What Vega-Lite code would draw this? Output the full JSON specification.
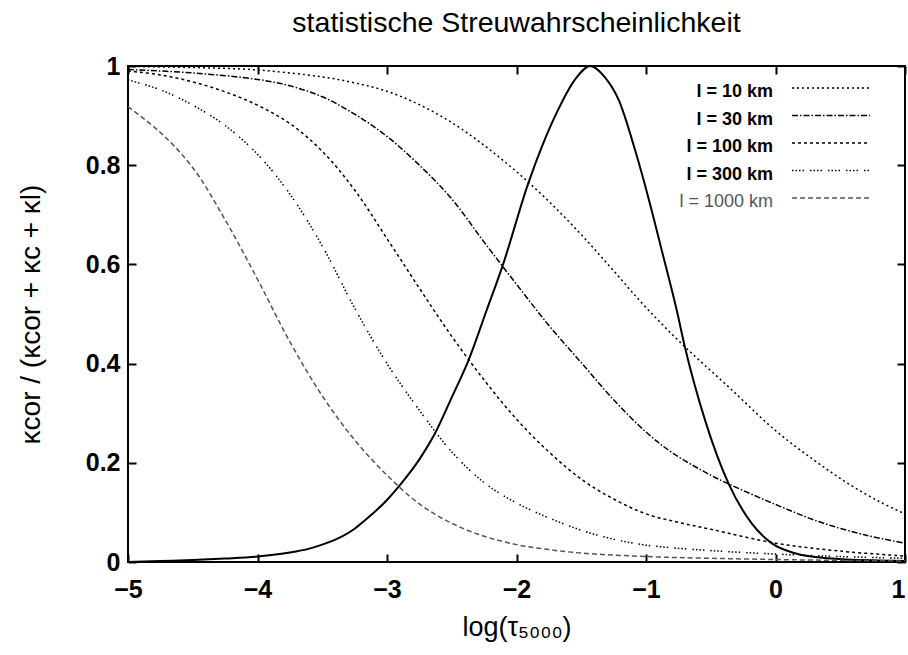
{
  "$schema": "https://vega.github.io/schema/vega-lite/v6.json",
  "width": 777,
  "height": 496,
  "autosize": {"type": "none"},
  "padding": {"left": 128, "top": 66, "right": 3, "bottom": 93},
  "background": "white",
  "config": {
    "font": "Liberation Sans",
    "view": {"stroke": "black", "strokeWidth": 2},
    "axis": {
      "domain": false,
      "grid": false,
      "ticks": true,
      "tickColor": "black",
      "tickWidth": 2,
      "tickSize": -8,
      "labelFlush": false,
      "labelColor": "black",
      "labelFont": "Liberation Sans",
      "labelFontWeight": "bold",
      "labelFontSize": 25,
      "titleFont": "Liberation Sans",
      "titleFontWeight": "normal",
      "titleColor": "black"
    }
  },
  "title": {
    "text": "statistische Streuwahrscheinlichkeit",
    "fontSize": 28.5,
    "fontWeight": "normal",
    "font": "Liberation Sans",
    "color": "black",
    "offset": 17
  },
  "datasets": {
    "peak": [
      {"x": -5, "y": 0.0},
      {"x": -4.75, "y": 0.002},
      {"x": -4.5, "y": 0.004},
      {"x": -4.25, "y": 0.007},
      {"x": -4, "y": 0.011},
      {"x": -3.75, "y": 0.019},
      {"x": -3.6, "y": 0.027},
      {"x": -3.5, "y": 0.035},
      {"x": -3.35, "y": 0.051},
      {"x": -3.25, "y": 0.067},
      {"x": -3.17, "y": 0.084},
      {"x": -3, "y": 0.125},
      {"x": -2.91, "y": 0.152},
      {"x": -2.75, "y": 0.207},
      {"x": -2.63, "y": 0.259},
      {"x": -2.5, "y": 0.332},
      {"x": -2.37, "y": 0.407},
      {"x": -2.23, "y": 0.508},
      {"x": -2.11, "y": 0.595},
      {"x": -1.91, "y": 0.763},
      {"x": -1.8, "y": 0.84},
      {"x": -1.68, "y": 0.911},
      {"x": -1.55, "y": 0.972},
      {"x": -1.43, "y": 1.0},
      {"x": -1.32, "y": 0.978},
      {"x": -1.21, "y": 0.931},
      {"x": -1.085, "y": 0.831},
      {"x": -0.97, "y": 0.723},
      {"x": -0.876, "y": 0.626},
      {"x": -0.763, "y": 0.508},
      {"x": -0.7, "y": 0.434},
      {"x": -0.544, "y": 0.286},
      {"x": -0.364, "y": 0.159},
      {"x": -0.184, "y": 0.078},
      {"x": -0.03, "y": 0.038},
      {"x": 0.15, "y": 0.0175},
      {"x": 0.4, "y": 0.0075},
      {"x": 0.8, "y": 0.003},
      {"x": 1, "y": 0.002}
    ],
    "curves": [
      {"series": "l = 10 km", "x": -5, "y": 0.999},
      {"series": "l = 10 km", "x": -4.5, "y": 0.997},
      {"series": "l = 10 km", "x": -4, "y": 0.992},
      {"series": "l = 10 km", "x": -3.5, "y": 0.978},
      {"series": "l = 10 km", "x": -3.25, "y": 0.966},
      {"series": "l = 10 km", "x": -3, "y": 0.949},
      {"series": "l = 10 km", "x": -2.75, "y": 0.922},
      {"series": "l = 10 km", "x": -2.5, "y": 0.886},
      {"series": "l = 10 km", "x": -2.25, "y": 0.84},
      {"series": "l = 10 km", "x": -2, "y": 0.787},
      {"series": "l = 10 km", "x": -1.75, "y": 0.727},
      {"series": "l = 10 km", "x": -1.5, "y": 0.66},
      {"series": "l = 10 km", "x": -1.25, "y": 0.587},
      {"series": "l = 10 km", "x": -1, "y": 0.513},
      {"series": "l = 10 km", "x": -0.7, "y": 0.434},
      {"series": "l = 10 km", "x": -0.35, "y": 0.35},
      {"series": "l = 10 km", "x": 0, "y": 0.265},
      {"series": "l = 10 km", "x": 0.3, "y": 0.205},
      {"series": "l = 10 km", "x": 0.55, "y": 0.16},
      {"series": "l = 10 km", "x": 0.8, "y": 0.122},
      {"series": "l = 10 km", "x": 1, "y": 0.097},
      {"series": "l = 30 km", "x": -5, "y": 0.993},
      {"series": "l = 30 km", "x": -4.5, "y": 0.986},
      {"series": "l = 30 km", "x": -4, "y": 0.973},
      {"series": "l = 30 km", "x": -3.75, "y": 0.96},
      {"series": "l = 30 km", "x": -3.5, "y": 0.938},
      {"series": "l = 30 km", "x": -3.25, "y": 0.903},
      {"series": "l = 30 km", "x": -3, "y": 0.858},
      {"series": "l = 30 km", "x": -2.75, "y": 0.8},
      {"series": "l = 30 km", "x": -2.5, "y": 0.732},
      {"series": "l = 30 km", "x": -2.25, "y": 0.645},
      {"series": "l = 30 km", "x": -2, "y": 0.56},
      {"series": "l = 30 km", "x": -1.75, "y": 0.477},
      {"series": "l = 30 km", "x": -1.5, "y": 0.402},
      {"series": "l = 30 km", "x": -1.25, "y": 0.327},
      {"series": "l = 30 km", "x": -1, "y": 0.262},
      {"series": "l = 30 km", "x": -0.79, "y": 0.219},
      {"series": "l = 30 km", "x": -0.5, "y": 0.175},
      {"series": "l = 30 km", "x": -0.35, "y": 0.156},
      {"series": "l = 30 km", "x": 0, "y": 0.116},
      {"series": "l = 30 km", "x": 0.35, "y": 0.08},
      {"series": "l = 30 km", "x": 0.7, "y": 0.054},
      {"series": "l = 30 km", "x": 1, "y": 0.038},
      {"series": "l = 100 km", "x": -5, "y": 0.99},
      {"series": "l = 100 km", "x": -4.75, "y": 0.982},
      {"series": "l = 100 km", "x": -4.5, "y": 0.968},
      {"series": "l = 100 km", "x": -4.25, "y": 0.948},
      {"series": "l = 100 km", "x": -4, "y": 0.921},
      {"series": "l = 100 km", "x": -3.75, "y": 0.884},
      {"series": "l = 100 km", "x": -3.5, "y": 0.828},
      {"series": "l = 100 km", "x": -3.25, "y": 0.75},
      {"series": "l = 100 km", "x": -3, "y": 0.652},
      {"series": "l = 100 km", "x": -2.75, "y": 0.552},
      {"series": "l = 100 km", "x": -2.5, "y": 0.455},
      {"series": "l = 100 km", "x": -2.25, "y": 0.367},
      {"series": "l = 100 km", "x": -2, "y": 0.288},
      {"series": "l = 100 km", "x": -1.75, "y": 0.222},
      {"series": "l = 100 km", "x": -1.5, "y": 0.167},
      {"series": "l = 100 km", "x": -1.25, "y": 0.127},
      {"series": "l = 100 km", "x": -1, "y": 0.097},
      {"series": "l = 100 km", "x": -0.75, "y": 0.08},
      {"series": "l = 100 km", "x": -0.5, "y": 0.066},
      {"series": "l = 100 km", "x": 0, "y": 0.038},
      {"series": "l = 100 km", "x": 0.5, "y": 0.022},
      {"series": "l = 100 km", "x": 1, "y": 0.012},
      {"series": "l = 300 km", "x": -5, "y": 0.972},
      {"series": "l = 300 km", "x": -4.75, "y": 0.952},
      {"series": "l = 300 km", "x": -4.5, "y": 0.921},
      {"series": "l = 300 km", "x": -4.25, "y": 0.88},
      {"series": "l = 300 km", "x": -4, "y": 0.822},
      {"series": "l = 300 km", "x": -3.75, "y": 0.742},
      {"series": "l = 300 km", "x": -3.5, "y": 0.637},
      {"series": "l = 300 km", "x": -3.25, "y": 0.512},
      {"series": "l = 300 km", "x": -3, "y": 0.4},
      {"series": "l = 300 km", "x": -2.75, "y": 0.306},
      {"series": "l = 300 km", "x": -2.5, "y": 0.222},
      {"series": "l = 300 km", "x": -2.25, "y": 0.16},
      {"series": "l = 300 km", "x": -2, "y": 0.119},
      {"series": "l = 300 km", "x": -1.75, "y": 0.089},
      {"series": "l = 300 km", "x": -1.5, "y": 0.064},
      {"series": "l = 300 km", "x": -1.25, "y": 0.046},
      {"series": "l = 300 km", "x": -1, "y": 0.034},
      {"series": "l = 300 km", "x": -0.5, "y": 0.023},
      {"series": "l = 300 km", "x": 0, "y": 0.016},
      {"series": "l = 300 km", "x": 0.5, "y": 0.011},
      {"series": "l = 300 km", "x": 1, "y": 0.0075},
      {"series": "l = 1000 km", "x": -5, "y": 0.918},
      {"series": "l = 1000 km", "x": -4.75, "y": 0.866},
      {"series": "l = 1000 km", "x": -4.5, "y": 0.795},
      {"series": "l = 1000 km", "x": -4.25, "y": 0.69},
      {"series": "l = 1000 km", "x": -4, "y": 0.57},
      {"series": "l = 1000 km", "x": -3.75, "y": 0.444},
      {"series": "l = 1000 km", "x": -3.5, "y": 0.335},
      {"series": "l = 1000 km", "x": -3.25, "y": 0.246},
      {"series": "l = 1000 km", "x": -3, "y": 0.175},
      {"series": "l = 1000 km", "x": -2.75, "y": 0.117},
      {"series": "l = 1000 km", "x": -2.5, "y": 0.078},
      {"series": "l = 1000 km", "x": -2.25, "y": 0.052},
      {"series": "l = 1000 km", "x": -2, "y": 0.035},
      {"series": "l = 1000 km", "x": -1.75, "y": 0.025},
      {"series": "l = 1000 km", "x": -1.5, "y": 0.018},
      {"series": "l = 1000 km", "x": -1, "y": 0.011},
      {"series": "l = 1000 km", "x": 0, "y": 0.005},
      {"series": "l = 1000 km", "x": 1, "y": 0.002}
    ]
  },
  "resolve": {"axis": {"x": "independent", "y": "independent"}},
  "layer": [
    {
      "data": {"name": "peak"},
      "mark": {"type": "line", "color": "black", "strokeWidth": 2, "interpolate": "monotone", "clip": true},
      "encoding": {
        "x": {
          "field": "x", "type": "quantitative",
          "scale": {"domain": [-5, 1], "nice": false, "zero": false},
          "axis": {
            "orient": "bottom", "values": [-5, -4, -3, -2, -1, 0, 1], "format": "~g",
            "labelPadding": 23, "title": "log(τ₅₀₀₀)", "titleFontSize": 27, "titlePadding": 12,
            "labelAlign": {"condition": {"test": "datum.value == 1", "value": "right"}, "value": "center"}
          }
        },
        "y": {
          "field": "y", "type": "quantitative",
          "scale": {"domain": [0, 1], "nice": false},
          "axis": {"orient": "left", "values": [0, 0.2, 0.4, 0.6, 0.8, 1], "format": "~g", "labelPadding": 16, "title": "κcor / (κcor + κc + κl)", "titleFontSize": 28, "titlePadding": 40}
        }
      }
    },
    {
      "data": {"name": "curves"},
      "mark": {"type": "line", "interpolate": "catmull-rom", "clip": true},
      "encoding": {
        "x": {
          "field": "x", "type": "quantitative",
          "scale": {"domain": [-5, 1], "nice": false, "zero": false},
          "axis": {"orient": "top", "values": [-5, -4, -3, -2, -1, 0, 1], "labels": false, "title": null}
        },
        "y": {
          "field": "y", "type": "quantitative",
          "scale": {"domain": [0, 1], "nice": false},
          "axis": {"orient": "right", "values": [0, 0.2, 0.4, 0.6, 0.8, 1], "labels": false, "title": null}
        },
        "strokeDash": {
          "field": "series", "type": "nominal",
          "scale": {
            "domain": ["l = 10 km", "l = 30 km", "l = 100 km", "l = 300 km", "l = 1000 km"],
            "range": [[2, 3], [6, 2, 1.5, 2], [3, 3], [1.5, 2, 1.5, 2, 1.5, 2, 1.5, 6], [5, 3]]
          },
          "legend": {
            "title": null,
            "orient": "none",
            "legendX": 600,
            "legendY": 15,
            "symbolType": "M-3.9,-0.4H3.9",
            "symbolSize": 400,
            "symbolOffset": 92,
            "labelAlign": "right",
            "labelOffset": -69,
            "labelFontSize": 18,
            "labelFont": "Liberation Sans",
            "labelColor": "black",
            "rowPadding": 7.5,
            "encode": {
              "labels": {
                "update": {
                  "fill": {"signal": "datum.label == 'l = 1000 km' ? '#555555' : 'black'"},
                  "fontWeight": {"signal": "datum.label == 'l = 1000 km' ? 'normal' : 'bold'"}
                }
              }
            }
          }
        },
        "color": {
          "field": "series", "type": "nominal",
          "scale": {
            "domain": ["l = 10 km", "l = 30 km", "l = 100 km", "l = 300 km", "l = 1000 km"],
            "range": ["black", "black", "black", "black", "#555555"]
          }
        },
        "strokeWidth": {
          "field": "series", "type": "nominal",
          "scale": {
            "domain": ["l = 10 km", "l = 30 km", "l = 100 km", "l = 300 km", "l = 1000 km"],
            "range": [1.5, 1.5, 1.5, 1.5, 1]
          }
        }
      }
    }
  ]
}
